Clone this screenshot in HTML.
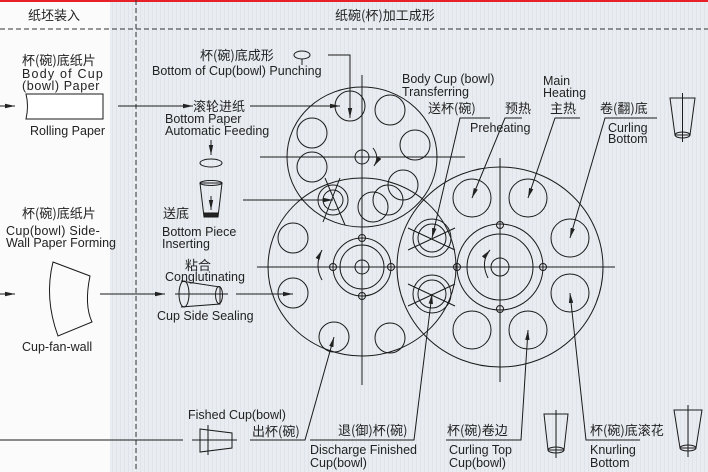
<!DOCTYPE html>
<html><head><meta charset="utf-8"><style>
html,body{margin:0;padding:0;width:708px;height:472px;overflow:hidden;background:#fff}
svg{display:block}
text{font-family:"Liberation Sans","Noto Sans CJK SC",sans-serif;fill:#222;font-size:12.5px}
.c{font-family:"Noto Sans CJK SC","WenQuanYi Zen Hei",sans-serif;font-size:13px}
</style></head><body>
<svg width="708" height="472" viewBox="0 0 708 472" xmlns="http://www.w3.org/2000/svg">
<defs>
<pattern id="st" width="4" height="4" patternUnits="userSpaceOnUse"><rect width="4" height="4" fill="#e9edf1"/><rect width="1" height="4" fill="#dfe4ea"/></pattern>
<marker id="a" markerWidth="10" markerHeight="6" refX="10" refY="3" orient="auto" markerUnits="userSpaceOnUse"><path d="M0,0.8 L10,3 L0,5.2Z" fill="#222"/></marker>
</defs>
<rect x="0" y="0" width="708" height="472" fill="url(#st)"/>
<rect x="0" y="0" width="110" height="472" fill="#fbfbfb"/>
<rect x="0" y="0" width="708" height="2" fill="#e8202a"/>
<g stroke="#333" stroke-width="1" fill="none">
<line x1="0" y1="29" x2="708" y2="29" stroke-dasharray="5,3"/>
<line x1="136" y1="0" x2="136" y2="472" stroke-dasharray="5,3"/>
</g>
<text class="c" x="28" y="20" font-size="14">纸坯装入</text>
<text class="c" x="335" y="20" font-size="14">纸碗(杯)加工成形</text>

<text class="c" x="22" y="65">杯(碗)底纸片</text>
<text x="22" y="78" font-size="13" letter-spacing="1.2">Body of Cup</text>
<text x="22" y="90" font-size="13" letter-spacing="0.6">(bowl) Paper</text>
<g stroke="#1a1a1a" fill="none" stroke-width="1">
<path d="M26,94 H103 V119 H26 Q29,106 26,94Z" fill="#fff"/>
<line x1="0" y1="106" x2="15" y2="106" marker-end="url(#a)"/>
<line x1="118" y1="106" x2="193" y2="106" marker-end="url(#a)"/>
<line x1="250" y1="106" x2="340" y2="106" marker-end="url(#a)"/>
<line x1="0" y1="294" x2="15" y2="294" marker-end="url(#a)"/>
<line x1="100" y1="294" x2="165" y2="294" marker-end="url(#a)"/>
<line x1="236" y1="294" x2="293" y2="294" marker-end="url(#a)"/>
<line x1="243" y1="200" x2="333" y2="200" marker-end="url(#a)"/>
<line x1="211" y1="140" x2="211" y2="155" marker-end="url(#a)"/>
<ellipse cx="211" cy="163" rx="11" ry="4"/>
<path d="M200,183 L204,217 H218 L222,183Z"/>
<ellipse cx="211" cy="183" rx="11" ry="2.5"/>
<path d="M204,213 H218 L218,217 H204Z" fill="#222"/>
<line x1="211" y1="196" x2="211" y2="210" marker-end="url(#a)"/>
<path d="M53,262 L90,276 Q84,305 92,322 L58,336 Q44,298 53,262Z"/>
<path d="M181,281 L220,287 L220,304 L181,307"/>
<ellipse cx="184" cy="294" rx="5" ry="13"/>
<ellipse cx="219" cy="295" rx="3.5" ry="8.5"/>
<line x1="175" y1="294" x2="228" y2="294"/>
<ellipse cx="302" cy="55" rx="8" ry="4"/>
<line x1="302" y1="59" x2="302" y2="65"/>
<polyline points="328,55 350,55 350,118" marker-end="url(#a)"/>
<line x1="0" y1="440" x2="183" y2="440"/>
<line x1="192" y1="440" x2="237" y2="440"/>
<path d="M200,429 L232,433 V448 L200,452Z"/>
<line x1="208" y1="425" x2="208" y2="455"/>
<polyline points="250,440 305,440 334,337" marker-end="url(#a)"/>
<polyline points="310,440 414,440 432,294" marker-end="url(#a)"/>
<polyline points="446,440 521,440 528,330" marker-end="url(#a)"/>
<polyline points="640,440 586,440 570,293" marker-end="url(#a)"/>
<polyline points="490,118 460,118 432,238" marker-end="url(#a)"/>
<polyline points="522,118 505,118 472,198" marker-end="url(#a)"/>
<polyline points="580,118 555,118 528,198" marker-end="url(#a)"/>
<polyline points="657,118 605,118 570,238" marker-end="url(#a)"/>
<path d="M670,98 L695,98 L690,135 H675Z"/><ellipse cx="682.5" cy="135" rx="7.5" ry="3"/><line x1="682.5" y1="93" x2="682.5" y2="142"/>
<path d="M544,414 L568,414 L564,450 H548Z"/><ellipse cx="556" cy="450" rx="8" ry="3"/><line x1="556" y1="410" x2="556" y2="458"/>
<path d="M674,410 L702,410 L696,448 H680Z"/><ellipse cx="688" cy="448" rx="8" ry="3"/><line x1="688" y1="405" x2="688" y2="457"/>

<ellipse cx="362" cy="157" rx="75" ry="70"/>
<line x1="260" y1="157" x2="465" y2="157"/>
<line x1="362" y1="75" x2="362" y2="385"/>
<circle cx="362" cy="157" r="7"/>
<circle cx="350" cy="106" r="15"/><circle cx="390" cy="110" r="15"/><circle cx="415" cy="145" r="15"/>
<circle cx="312" cy="133" r="15"/><circle cx="312" cy="167" r="15"/><circle cx="403" cy="185" r="15"/>
<circle cx="373" cy="207" r="15"/><circle cx="388" cy="200" r="15"/>
<circle cx="333" cy="200" r="15"/><circle cx="333" cy="200" r="10"/>
<line x1="325" y1="178" x2="345" y2="225"/><line x1="340" y1="178" x2="323" y2="222"/>
<path d="M373,148 Q380,157 374,166" marker-end="url(#a)"/>
<ellipse cx="362" cy="267" rx="94" ry="89"/>
<line x1="257" y1="267" x2="615" y2="267"/>
<circle cx="362" cy="267" r="29"/><circle cx="362" cy="267" r="22"/><circle cx="362" cy="267" r="7"/>
<circle cx="362" cy="238" r="3.5"/><circle cx="362" cy="296" r="3.5"/><circle cx="333" cy="267" r="3.5"/><circle cx="391" cy="267" r="3.5"/>
<circle cx="293" cy="238" r="15"/><circle cx="293" cy="293" r="15"/><circle cx="334" cy="337" r="15"/><circle cx="390" cy="338" r="15"/>
<path d="M322,280 Q314,266 322,250" marker-end="url(#a)"/>
<ellipse cx="500" cy="267" rx="103" ry="100"/>
<line x1="500" y1="158" x2="500" y2="382"/>
<circle cx="500" cy="267" r="43"/><circle cx="500" cy="267" r="33"/><circle cx="500" cy="267" r="9"/>
<circle cx="500" cy="225" r="3.5"/><circle cx="500" cy="309" r="3.5"/><circle cx="457" cy="267" r="3.5"/><circle cx="543" cy="267" r="3.5"/>
<circle cx="472" cy="198" r="19"/><circle cx="528" cy="198" r="19"/><circle cx="570" cy="238" r="19"/>
<circle cx="570" cy="293" r="19"/><circle cx="528" cy="330" r="19"/><circle cx="472" cy="330" r="19"/>
<circle cx="432" cy="238" r="19"/><circle cx="432" cy="238" r="14"/>
<circle cx="432" cy="294" r="19"/><circle cx="432" cy="294" r="14"/>
<line x1="408" y1="228" x2="455" y2="250"/><line x1="408" y1="250" x2="455" y2="228"/>
<line x1="408" y1="284" x2="455" y2="306"/><line x1="408" y1="306" x2="455" y2="284"/>
<path d="M488,278 Q480,262 490,250" marker-end="url(#a)"/>
</g>
<text x="30" y="135" font-size="12">Rolling Paper</text>
<text class="c" x="193" y="111">滚轮进纸</text>
<text x="165" y="123" font-size="13">Bottom Paper</text>
<text x="165" y="135" font-size="13">Automatic Feeding</text>
<text class="c" x="163" y="218">送底</text>
<text x="162" y="236" font-size="13">Bottom Piece</text>
<text x="162" y="248" font-size="13">Inserting</text>
<text class="c" x="200" y="60">杯(碗)底成形</text>
<text x="152" y="75" font-size="12.5">Bottom of Cup(bowl)  Punching</text>
<text class="c" x="22" y="218">杯(碗)底纸片</text>
<text x="6" y="235" font-size="13" letter-spacing="0.3">Cup(bowl) Side-</text>
<text x="6" y="247" font-size="13">Wall Paper Forming</text>
<text x="22" y="351" font-size="12">Cup-fan-wall</text>
<text class="c" x="185" y="270">粘合</text>
<text x="165" y="281" font-size="13">Conglutinating</text>
<text x="157" y="320" font-size="12">Cup Side Sealing</text>
<text x="188" y="419" font-size="13">Fished Cup(bowl)</text>
<text class="c" x="252" y="436">出杯(碗)</text>
<text class="c" x="338" y="435">退(御)杯(碗)</text>
<text x="310" y="454" font-size="13">Discharge Finished</text>
<text x="310" y="467" font-size="13">Cup(bowl)</text>
<text class="c" x="447" y="435">杯(碗)卷边</text>
<text x="449" y="454" font-size="13">Curling Top</text>
<text x="449" y="467" font-size="13">Cup(bowl)</text>
<text class="c" x="590" y="435">杯(碗)底滚花</text>
<text x="590" y="454" font-size="13">Knurling</text>
<text x="590" y="467" font-size="12">Bottom</text>
<text x="402" y="83" font-size="13">Body Cup (bowl)</text>
<text x="402" y="96" font-size="13">Transferring</text>
<text class="c" x="428" y="113">送杯(碗)</text>
<text class="c" x="505" y="113">预热</text>
<text x="470" y="132" font-size="13">Preheating</text>
<text x="543" y="85" font-size="13">Main</text>
<text x="543" y="97" font-size="13">Heating</text>
<text class="c" x="550" y="113">主热</text>
<text class="c" x="600" y="113">卷(翻)底</text>
<text x="608" y="132" font-size="13">Curling</text>
<text x="608" y="143" font-size="13">Bottom</text>
</svg>
</body></html>
